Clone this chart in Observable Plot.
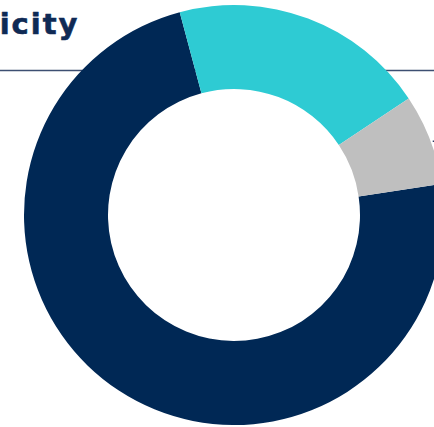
<!DOCTYPE html>
<html>
<head>
<meta charset="utf-8">
<script src="https://cdn.jsdelivr.net/npm/d3@7"></script>
<script src="https://cdn.jsdelivr.net/npm/@observablehq/plot@0.6"></script>
<style>
  html, body { margin: 0; padding: 0; background: #fff; overflow: hidden; }
  #chart svg { display: block; }
</style>
</head>
<body>
<div id="chart"></div>
<script>
// Data (category names are cropped out of the reference)
const categories = ["White", "Black", "Other"];
const shares = [73.2, 19.8, 7.0];
const colors = ["#002855", "#2ecbd3", "#bfbfbf"];
const title = "Ethnicity";

const W = 434, H = 427;
const center = {cx: 234, cy: 215};
const outerR = 210, innerR = 126;
const startDeg = 81.5;

const rows = categories.map((c, i) => ({category: c, value: shares[i], color: colors[i]}));
const start = startDeg * Math.PI / 180;
const pie = d3.pie().sort(null).value(d => d.value).startAngle(start).endAngle(start + 2 * Math.PI);
const arcs = pie(rows);

const donut = Plot.dot([center], {
  x: "cx", y: "cy",
  render(index, scales, values) {
    const cx = values.x[index[0]], cy = values.y[index[0]];
    const k = scales.x(1) - scales.x(0);
    const arcGen = d3.arc().innerRadius(innerR * k).outerRadius(outerR * k);
    const g = d3.create("svg:g").attr("transform", `translate(${cx},${cy})`);
    g.selectAll("path").data(arcs).join("path")
      .attr("d", arcGen)
      .attr("fill", d => d.data.color);
    // leader line for the small slice (label is outside the visible frame)
    const last = arcs[arcs.length - 1];
    const mid = (last.startAngle + last.endAngle) / 2;
    const lx = Math.sin(mid) * (outerR + 3) * k, ly = -Math.cos(mid) * (outerR + 3) * k + 3;
    g.append("line").attr("x1", lx).attr("y1", ly).attr("x2", lx + 30).attr("y2", ly)
      .attr("stroke", "#2a3f66").attr("stroke-width", 1.5);
    return g.node();
  }
});

const chart = Plot.plot({
  width: W, height: H, margin: 0,
  x: {domain: [0, W], range: [0, W], axis: null},
  y: {domain: [0, H], range: [0, H], axis: null},
  style: {background: "#fff"},
  marks: [
    Plot.ruleY([70], {stroke: "#3d4f72", strokeWidth: 1.5}),
    donut,
    Plot.text([title], {
      frameAnchor: "top-left", dx: 79, dy: 33, lineAnchor: "bottom", textAnchor: "end",
      fontSize: 29, fontWeight: "bold", fill: "#0f2a55",
      fontFamily: "'DejaVu Sans', sans-serif",
      stroke: "#0f2a55", strokeWidth: 0.6,
      render(index, scales, values, dims, context, next) {
        const g = next(index, scales, values, dims, context);
        d3.select(g).selectAll("text").style("letter-spacing", "2px");
        return g;
      }
    })
  ]
});
document.getElementById("chart").appendChild(chart);
</script>
</body>
</html>
